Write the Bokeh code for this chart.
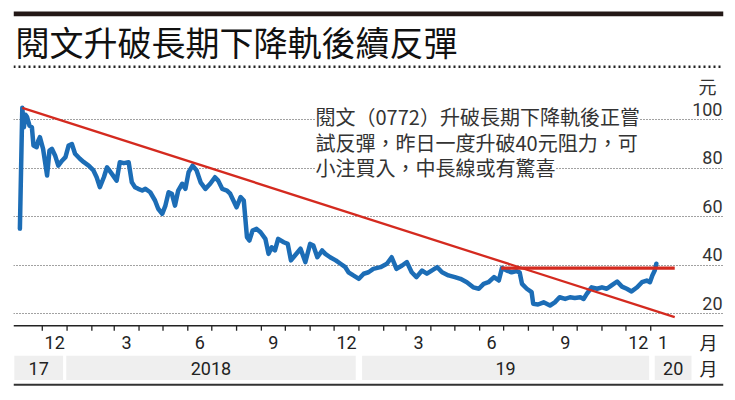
import pandas as pd
from bokeh.plotting import figure
from bokeh.models import (Range1d, FixedTicker, Grid, Label, LabelSet,
                          ColumnDataSource, Span)
from bokeh.core.properties import value
from bokeh.embed import file_html
from bokeh.resources import INLINE

# ---------------- data ----------------
dates = [
    "2017-11-03", "2017-11-06", "2017-11-08", "2017-11-10", "2017-11-12", "2017-11-15",
    "2017-11-18", "2017-11-20", "2017-11-24", "2017-11-26", "2017-11-28", "2017-12-02",
    "2017-12-07", "2017-12-10", "2017-12-13", "2017-12-17", "2017-12-21", "2017-12-26",
    "2017-12-30", "2018-01-03", "2018-01-07", "2018-01-11", "2018-01-17", "2018-01-22",
    "2018-01-28", "2018-02-03", "2018-02-07", "2018-02-11", "2018-02-16", "2018-02-20",
    "2018-02-26", "2018-03-04", "2018-03-08", "2018-03-13", "2018-03-19", "2018-03-23",
    "2018-03-27", "2018-03-31", "2018-04-05", "2018-04-09", "2018-04-15", "2018-04-21",
    "2018-04-25", "2018-04-30", "2018-05-04", "2018-05-08", "2018-05-12", "2018-05-16",
    "2018-05-20", "2018-05-25", "2018-05-29", "2018-06-02", "2018-06-07", "2018-06-12",
    "2018-06-17", "2018-06-23", "2018-06-29", "2018-07-05", "2018-07-09", "2018-07-14",
    "2018-07-20", "2018-07-24", "2018-07-28", "2018-08-01", "2018-08-06", "2018-08-10",
    "2018-08-14", "2018-08-17", "2018-08-21", "2018-08-26", "2018-08-31", "2018-09-06",
    "2018-09-10", "2018-09-14", "2018-09-18", "2018-09-22", "2018-09-29", "2018-10-04",
    "2018-10-08", "2018-10-13", "2018-10-20", "2018-10-26", "2018-11-01", "2018-11-05",
    "2018-11-10", "2018-11-16", "2018-11-20", "2018-11-26", "2018-12-03", "2018-12-09",
    "2018-12-15", "2018-12-19", "2018-12-25", "2019-01-01", "2019-01-07", "2019-01-13",
    "2019-01-19", "2019-01-28", "2019-02-05", "2019-02-11", "2019-02-17", "2019-02-24",
    "2019-03-02", "2019-03-08", "2019-03-14", "2019-03-21", "2019-03-27", "2019-04-02",
    "2019-04-09", "2019-04-15", "2019-04-23", "2019-05-01", "2019-05-08", "2019-05-16",
    "2019-05-24", "2019-05-31", "2019-06-06", "2019-06-12", "2019-06-19", "2019-06-25",
    "2019-06-29", "2019-07-05", "2019-07-11", "2019-07-17", "2019-07-21", "2019-07-24",
    "2019-07-30", "2019-08-05", "2019-08-07", "2019-08-13", "2019-08-20", "2019-08-28",
    "2019-09-03", "2019-09-09", "2019-09-16", "2019-09-22", "2019-09-28", "2019-10-05",
    "2019-10-09", "2019-10-13", "2019-10-19", "2019-10-26", "2019-11-01", "2019-11-07",
    "2019-11-13", "2019-11-20", "2019-11-26", "2019-12-02", "2019-12-08", "2019-12-15",
    "2019-12-21", "2019-12-27", "2019-12-31", "2020-01-03", "2020-01-06", "2020-01-08",
]
prices = [
    55.0, 104.8, 96.8, 102.0, 101.0, 97.5,
    96.8, 89.3, 88.6, 91.3, 92.7, 87.9,
    76.9, 87.2, 87.9, 85.2, 81.0, 83.1,
    84.5, 89.3, 89.9, 85.9, 83.8, 82.4,
    81.0, 79.0, 76.2, 72.1, 76.2, 80.3,
    77.6, 74.8, 82.4, 82.0, 82.4, 74.1,
    72.1, 71.4, 70.7, 71.4, 70.0, 66.6,
    63.2, 61.1, 64.5, 70.0, 69.4, 64.5,
    70.7, 73.5, 71.4, 78.3, 81.0, 79.0,
    74.1, 71.4, 73.5, 76.2, 74.8, 71.4,
    70.7, 69.4, 66.6, 63.8, 68.0, 66.6,
    51.5, 50.1, 54.2, 54.9, 53.5, 50.8,
    44.6, 47.3, 46.0, 50.8, 49.4, 48.7,
    41.9, 43.9, 46.7, 41.2, 48.7, 48.0,
    43.2, 46.0, 44.6, 43.2, 41.9, 40.5,
    39.1, 37.0, 35.7, 34.3, 36.4, 37.0,
    38.4, 39.1, 40.5, 43.2, 38.4, 39.8,
    41.2, 37.0, 35.0, 37.7, 36.4, 37.7,
    39.1, 37.0, 35.7, 35.0, 34.3, 32.9,
    30.8, 30.2, 32.2, 32.9, 35.0, 33.6,
    38.8, 37.7, 37.0, 37.5, 37.0, 32.2,
    30.2, 28.8, 24.0, 23.7, 24.6, 23.3,
    24.6, 26.7, 26.0, 26.7, 26.4, 26.7,
    26.0, 28.1, 30.8, 30.2, 30.8, 30.2,
    31.6, 33.2, 31.1, 30.2, 29.1, 30.8,
    32.9, 33.6, 32.9, 35.7, 37.7, 40.5,
]

# long-term downtrend line (two ends) and 40-yuan resistance line
trend_dates = ["2017-11-06", "2020-01-31"]
trend_values = [104.8, 18.5]
resist_dates = ["2019-06-28", "2020-01-31"]
resist_values = [38.7, 38.7]

y_floor = 15
y_ticks = [20, 40, 60, 80, 100]
y_tick_labels = ["20", "40", "60", "80", "100"]

month_tick_starts = pd.date_range("2017-12-01", "2020-01-01", freq="MS")
label_months = ["2017-12", "2018-03", "2018-06", "2018-09", "2018-12",
                "2019-03", "2019-06", "2019-09", "2019-12", "2020-01"]
label_texts = ["12", "3", "6", "9", "12", "3", "6", "9", "12", "1"]

year_labels = ["17", "2018", "19", "20"]
year_band_left = ["2017-10-27", "2017-12-31", "2019-01-05", "2020-01-06"]
year_band_right = ["2017-12-27", "2018-12-28", "2019-12-30", "2020-02-21"]

title_text = "閱文升破長期下降軌後續反彈"
note_lines = ["閱文（0772）升破長期下降軌後正嘗",
              "試反彈，昨日一度升破40元阻力，可",
              "小注買入，中長線或有驚喜"]

# ---------------- layout helpers ----------------
W, H = 734, 399
PX = 80 / 194.0            # value units per vertical pixel
Y_TOP = 100 + 119 * PX     # value at top edge of canvas
Y_BOT = Y_TOP - H * PX     # value at bottom edge


def ms(d):
    return pd.Timestamp(d).value / 1e6


def below(px):
    """value lying px pixels below the x axis"""
    return y_floor - px * PX


BLUE = "#1c6db6"
RED = "#d42a1f"
DARK = "#222222"
CJK = "Noto Sans CJK TC"
NUM = "Roboto"

p = figure(width=W, height=H, output_backend="svg", toolbar_location=None,
           x_axis_location=None, y_axis_location=None,
           x_range=Range1d(ms("2017-10-26"), ms("2020-04-01")),
           y_range=Range1d(Y_BOT, Y_TOP),
           min_border_left=13, min_border_right=W - 723, min_border_top=0,
           min_border_bottom=0)
p.outline_line_color = None
p.background_fill_color = "white"
p.border_fill_color = "white"
p.grid.visible = False

# horizontal dotted grid
p.add_layout(Grid(dimension=1, ticker=FixedTicker(ticks=y_ticks),
                  grid_line_color="#444444", grid_line_dash="1 2", grid_line_width=1))

# price line
src = ColumnDataSource(dict(x=pd.to_datetime(dates), y=prices))
p.line("x", "y", source=src, line_color=BLUE, line_width=4.5,
       line_join="round", line_cap="round")
p.line(x=pd.to_datetime(trend_dates), y=trend_values, line_color=RED, line_width=2.3)
p.line(x=pd.to_datetime(resist_dates), y=resist_values, line_color=RED, line_width=3.3)

# x axis (line, month-boundary ticks, mid-month labels)
p.add_layout(Span(location=y_floor, dimension="width", line_color=DARK, line_width=1.5))
p.segment(x0=month_tick_starts, y0=y_floor, x1=month_tick_starts, y1=below(5),
          line_color=DARK, line_width=1.3)
mid = [pd.Timestamp(m + "-01") + pd.Timedelta(days=pd.Timestamp(m + "-01").days_in_month / 2)
       for m in label_months]
p.text(x=mid, y=below(16.5), text=label_texts, text_align="center",
       text_baseline="middle", text_font=value(NUM), text_font_size="18px",
       text_color=DARK)

# year band
yl = pd.to_datetime(year_band_left)
yr = pd.to_datetime(year_band_right)
p.quad(left=yl, right=yr, top=below(30), bottom=below(54.3),
       fill_color="#efefef", line_color=None)
p.text(x=yl + (yr - yl) / 2, y=below(42.5), text=year_labels, text_align="center",
       text_baseline="middle", text_font=value(NUM), text_font_size="18px",
       text_color=DARK)
for px in (16.5, 42.5):
    p.add_layout(Label(x=695, y=below(px), x_units="screen", text="月",
                       text_align="center", text_baseline="middle", text_font=CJK,
                       text_font_size="18px", text_color=DARK))
p.add_layout(Span(location=below(59), dimension="width", line_color="#333333",
                  line_width=2))

# y labels sitting above gridlines at the right
ysrc = ColumnDataSource(dict(y=y_ticks, t=y_tick_labels, x=[709] * len(y_ticks)))
p.add_layout(LabelSet(x="x", y="y", text="t", source=ysrc, x_units="screen",
                      text_align="right", text_baseline="alphabetic", y_offset=4,
                      text_font=value(NUM), text_font_size="18px",
                      text_color="#333333"))
p.add_layout(Label(x=694, y=H - 85, x_units="screen", y_units="screen", text="元",
                   text_align="center", text_baseline="middle", text_font=CJK,
                   text_font_size="18px", text_color="#333333"))

# annotation text
for i, line in enumerate(note_lines):
    p.add_layout(Label(x=302, y=H - 116 - 25.5 * i, x_units="screen", y_units="screen",
                       text=line, text_align="left", text_baseline="middle",
                       text_font=CJK, text_font_size="20px", text_color="#333333",
                       background_fill_color="white"))

# title and rules
p.add_layout(Span(location=H - 13.3, location_units="screen", dimension="width",
                  line_color="#231816", line_width=4.7))
p.add_layout(Label(x=2, y=H - 41.3, x_units="screen", y_units="screen", text=title_text,
                   text_align="left", text_baseline="middle", text_font=CJK,
                   text_font_size="34px", text_font_style="normal", text_color="#111111"))
p.add_layout(Span(location=H - 66.3, location_units="screen", dimension="width",
                  line_color="#222222", line_width=2.5, line_dash="2 3"))

open("out.html", "w").write(file_html(p, INLINE))
